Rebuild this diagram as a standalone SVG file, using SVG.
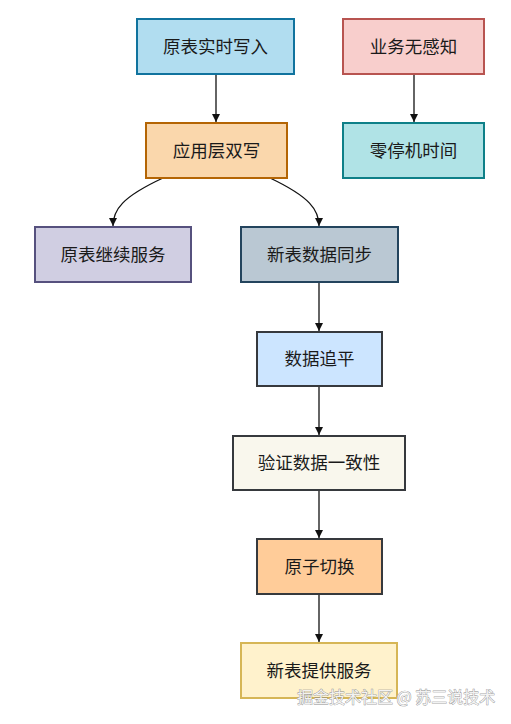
<svg xmlns="http://www.w3.org/2000/svg" width="511" height="724" viewBox="0 0 511 724">
<style>
.n rect{stroke-width:2}
.n text{font-family:"Noto Sans CJK SC","Liberation Sans",sans-serif;font-size:17.5px;fill:#1a1a1a;text-anchor:middle}
.c path{fill:none;stroke:#111;stroke-width:1.3}
.wm{font-family:"Noto Sans CJK SC",sans-serif;font-size:16px;fill:#f2f2f2;stroke:#8a8a8a;stroke-width:0.7;paint-order:stroke}
</style>
<defs>
<marker id="ah" viewBox="0 0 10 10" refX="10" refY="5" markerWidth="8" markerHeight="8" markerUnits="userSpaceOnUse" orient="auto">
<path d="M0,0 L10,5 L0,10 Z" fill="#111"/>
</marker>
</defs>
<rect width="511" height="724" fill="#ffffff"/>
<g class="c">
<path d="M216,74 L216,122" marker-end="url(#ah)"/>
<path d="M414,74 L414,122" marker-end="url(#ah)"/>
<path d="M163,178 C122,197 113,210 113,226" marker-end="url(#ah)"/>
<path d="M270,178 C310,197 319,210 319,226" marker-end="url(#ah)"/>
<path d="M319,282 L319,331" marker-end="url(#ah)"/>
<path d="M319,386 L319,435" marker-end="url(#ah)"/>
<path d="M319,490 L319,538" marker-end="url(#ah)"/>
<path d="M319,594 L319,642" marker-end="url(#ah)"/>
</g>
<g id="n1" class="n"><rect x="137" y="19" width="157" height="55" fill="#b1ddf0" stroke="#10739e"/><text x="215.5" y="53">原表实时写入</text></g>
<g id="n2" class="n"><rect x="343" y="19" width="141" height="55" fill="#f8cecc" stroke="#b85450"/><text x="413.5" y="53">业务无感知</text></g>
<g id="n3" class="n"><rect x="146" y="123" width="141" height="55" fill="#fad7ac" stroke="#b46504"/><text x="216.5" y="157">应用层双写</text></g>
<g id="n4" class="n"><rect x="343" y="123" width="141" height="55" fill="#b0e3e6" stroke="#0e8088"/><text x="413.5" y="157">零停机时间</text></g>
<g id="n5" class="n"><rect x="35" y="227" width="156" height="55" fill="#d0cee2" stroke="#56517e"/><text x="113" y="261">原表继续服务</text></g>
<g id="n6" class="n"><rect x="241" y="227" width="157" height="55" fill="#bac8d3" stroke="#23445d"/><text x="319.5" y="261">新表数据同步</text></g>
<g id="n7" class="n"><rect x="257" y="332" width="125" height="54" fill="#cce5ff" stroke="#36393d"/><text x="319.5" y="365">数据追平</text></g>
<g id="n8" class="n"><rect x="233" y="436" width="172" height="54" fill="#f9f7ed" stroke="#36393d"/><text x="319" y="469">验证数据一致性</text></g>
<g id="n9" class="n"><rect x="257" y="539" width="125" height="55" fill="#ffcc99" stroke="#36393d"/><text x="319.5" y="573">原子切换</text></g>
<g id="n10" class="n"><rect x="241" y="643" width="156" height="55" fill="#fff2cc" stroke="#d6b656"/><text x="319" y="677">新表提供服务</text></g>
<text class="wm" x="297" y="703">掘金技术社区 @ 苏三说技术</text>
</svg>
